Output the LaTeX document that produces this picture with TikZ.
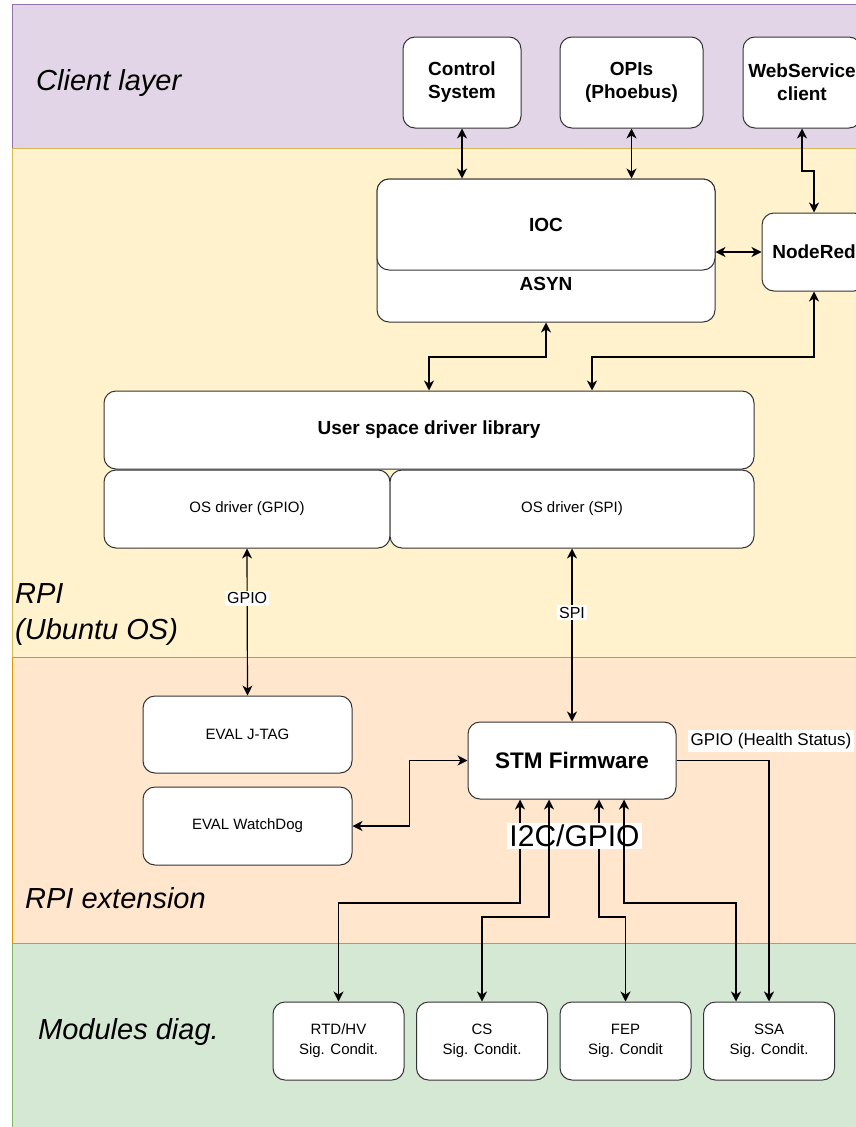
\documentclass[tikz,border=0pt]{standalone}
\usepackage{fontspec}
\setmainfont{Liberation Sans}
\usetikzlibrary{arrows.meta}

\definecolor{clientfill}{HTML}{E1D5E7}
\definecolor{clientline}{HTML}{9673A6}
\definecolor{rpifill}{HTML}{FFF2CC}
\definecolor{rpiline}{HTML}{D6B656}
\definecolor{extfill}{HTML}{FFE6CC}
\definecolor{extline}{HTML}{D79B00}
\definecolor{modfill}{HTML}{D5E8D4}
\definecolor{modline}{HTML}{82B366}

\begin{document}
\begin{tikzpicture}[x=1pt, y=-1pt, >={Stealth[length=10pt,width=10pt,inset=3pt]}]

\tikzstyle{band}=[line width=1pt]
\tikzstyle{box}=[draw=black!80, fill=white, rounded corners=12pt, line width=1pt, align=center, inner sep=0pt]
\tikzstyle{bigbold}=[font=\fontsize{19}{23}\selectfont\bfseries]
\tikzstyle{smalltxt}=[font=\fontsize{15}{20}\selectfont]
\tikzstyle{layertext}=[font=\fontsize{29}{36}\selectfont\itshape, anchor=west, align=left, inner sep=0pt]
\tikzstyle{arrow}=[->, line width=1.2pt]
\tikzstyle{biarrow}=[<->, line width=1.2pt]
\tikzstyle{lbl}=[fill=white, inner sep=2pt, font=\fontsize{16}{20}\selectfont]

\useasboundingbox (0,0) rectangle (856,1127);

% layers
\draw [band, fill=clientfill, draw=clientline] (12,4) rectangle (900,148);
\draw [band, fill=rpifill, draw=rpiline] (12,148) rectangle (900,657);
\draw [band, fill=extfill, draw=extline] (12,657) rectangle (900,943);
\draw [band, fill=modfill, draw=modline] (12,943) rectangle (900,1140);

\node (client) [layertext] at (36,83) {Client layer};
\node (rpi) [layertext] at (15,615) {RPI\\(Ubuntu OS)};
\node (ext) [layertext] at (25,898) {RPI extension};
\node (mod) [layertext] at (38,1032) {Modules diag.};

% client layer
\node (ctrl) [box, bigbold, minimum width=118pt, minimum height=91pt] at (462,82.5) {Control\\System};
\node (opi) [box, bigbold, minimum width=143pt, minimum height=91pt] at (631.5,82.5) {OPIs\\(Phoebus)};
\node (ws) [box, bigbold, minimum width=118pt, minimum height=91pt] at (802,82.5) {WebService\\client};

% RPI
\node (asyn) [box, minimum width=338pt, minimum height=143pt] at (546,250.5) {};
\node (asyntxt) [bigbold] at (546,284) {ASYN};
\node (ioc) [box, bigbold, minimum width=338pt, minimum height=91pt] at (546,224.5) {IOC};
\node (nr) [box, bigbold, minimum width=104pt, minimum height=78pt] at (814,252) {NodeRed};

\node (usr) [box, bigbold, minimum width=650pt, minimum height=78pt] at (429,430) {User space driver library};
\node (gpiodrv) [box, smalltxt, minimum width=286pt, minimum height=78pt] at (247,509) {OS driver (GPIO)};
\node (spidrv) [box, smalltxt, minimum width=364pt, minimum height=78pt] at (572,509) {OS driver (SPI)};

% extension
\node (jtag) [box, smalltxt, minimum width=209pt, minimum height=77pt] at (247.5,734.5) {EVAL J-TAG};
\node (wdog) [box, smalltxt, minimum width=209pt, minimum height=78pt] at (247.5,826) {EVAL WatchDog};
\node (stm) [box, font=\fontsize{22.5}{27}\selectfont\bfseries, minimum width=208pt, minimum height=77pt] at (572,760.5) {STM Firmware};

% modules
\node (rtd) [box, smalltxt, minimum width=131pt, minimum height=78pt] at (338.5,1041) {RTD/HV\\Sig. Condit.};
\node (cs) [box, smalltxt, minimum width=131pt, minimum height=78pt] at (482,1041) {CS\\Sig. Condit.};
\node (fep) [box, smalltxt, minimum width=131pt, minimum height=78pt] at (625.5,1041) {FEP\\Sig. Condit};
\node (ssa) [box, smalltxt, minimum width=131pt, minimum height=78pt] at (769,1041) {SSA\\Sig. Condit.};

\draw [biarrow] (ctrl.south) -- (ctrl.south |- ioc.north);
\draw [biarrow] (opi.south) -- (opi.south |- ioc.north);
\draw [biarrow] (ws.south) -- (ws.south |- 0,171) -| (nr.north);
\draw [biarrow] (nr.west) -- (nr.west -| ioc.east);
\draw [biarrow] (asyn.south) -- (asyn.south |- 0,357) -| (usr.north);
\draw [biarrow] (nr.south) -- (nr.south |- 0,357) -| ([xshift=163pt]usr.north);

\draw [biarrow] (gpiodrv.south) -- node[lbl, pos=0.34] {GPIO} (jtag.north);
\draw [biarrow] (spidrv.south) -- node[lbl, pos=0.37] {SPI} (stm.north);
\draw [biarrow] (stm.west) -- ++(-58,0) |- (wdog.east);

\draw [arrow] (stm.east) -| (ssa.north);
\node (health) [lbl, font=\fontsize{17}{20}\selectfont, inner sep=3pt] at (771,741) {GPIO (Health Status)};

\draw [biarrow] ([xshift=-52pt]stm.south) -- ([xshift=-52pt]stm.south |- 0,903) -| (rtd.north);
\draw [biarrow] ([xshift=27pt]stm.south) -- ([xshift=27pt]stm.south |- 0,917) -| (fep.north);
\node (i2c) [fill=white, inner sep=2pt, font=\fontsize{30}{34}\selectfont] at (574.5,836) {I2C/GPIO};
\draw [biarrow] ([xshift=-23pt]stm.south) -- ([xshift=-23pt]stm.south |- 0,917) -| (cs.north);
\draw [biarrow] ([xshift=52pt]stm.south) -- ([xshift=52pt]stm.south |- 0,903) -| ([xshift=-33pt]ssa.north);

\end{tikzpicture}
\end{document}
